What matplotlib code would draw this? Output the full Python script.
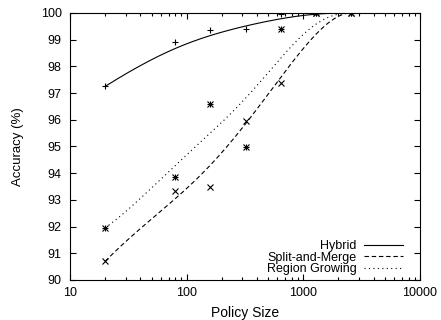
import numpy as np
from math import comb
import matplotlib
matplotlib.use("Agg")
import matplotlib.pyplot as plt
from matplotlib.ticker import LogLocator, FixedLocator, NullFormatter

policy_size = [20, 80, 160, 320, 640, 1280, 2560]
hybrid = [97.25, 98.9, 99.35, 99.4, 99.97, 100.0, 100.0]
split_merge = [90.7, 93.35, 93.5, 95.95, 97.37, 100.0, 100.0]
region_growing = [91.95, 93.85, 96.6, 94.97, 99.4, 100.0, 100.0]


def bezier(xs, ys, n=200):
    # gnuplot "smooth bezier" (done in log-x space)
    lx = np.log10(xs)
    ys = np.asarray(ys)
    k = len(xs) - 1
    t = np.linspace(0, 1, n)
    bx = np.zeros(n)
    by = np.zeros(n)
    for i in range(k + 1):
        w = comb(k, i) * t**i * (1 - t)**(k - i)
        bx += w * lx[i]
        by += w * ys[i]
    return 10**bx, by


plt.rcParams["font.family"] = ["Liberation Sans", "DejaVu Sans"]
plt.rcParams["font.size"] = 9

fig = plt.figure(figsize=(4.41, 3.2), dpi=100)
ax = fig.add_axes([70 / 441, 40 / 320, 350 / 441, 267 / 320])

lw = 0.8
series = [
    (hybrid, "Hybrid", "-", ["+"]),
    (split_merge, "Split-and-Merge", (0, (4, 2.5)), ["x"]),
    (region_growing, "Region Growing", (0, (1, 3)), ["+", "x"]),
]
for ys, label, ls, marks in series:
    bx, by = bezier(policy_size, ys)
    ax.plot(bx, by, color="black", linestyle=ls, linewidth=lw, label=label)
    for m in marks:
        ax.plot(policy_size, ys, linestyle="none", marker=m, markersize=4.6,
                markeredgewidth=0.8, color="black")

ax.set_xscale("log")
ax.set_xlim(10, 10000)
ax.set_ylim(90, 100)
ax.yaxis.set_major_locator(FixedLocator(range(90, 101)))
ax.xaxis.set_major_locator(LogLocator(base=10))
ax.xaxis.set_minor_locator(LogLocator(base=10, subs=np.arange(2, 10)))
ax.xaxis.set_minor_formatter(NullFormatter())
ax.xaxis.set_major_formatter(plt.FuncFormatter(lambda v, p: f"{int(v)}"))

ax.tick_params(which="both", direction="in", top=True, right=True, width=0.8)
ax.tick_params(which="major", length=4.5, labelsize=9)
ax.tick_params(which="minor", length=2.5)
ax.tick_params(axis="y", pad=6)
ax.tick_params(axis="x", pad=5)
for s in ax.spines.values():
    s.set_linewidth(0.8)

ax.set_xlabel("Policy Size", fontsize=10, labelpad=5)
ax.set_ylabel("Accuracy (%)", fontsize=9.5, labelpad=12)

ax.legend(loc="lower right", frameon=False, markerfirst=False, fontsize=9,
          handlelength=3.1, handletextpad=0.6, labelspacing=-0.05,
          borderaxespad=0.0, borderpad=0.4, bbox_to_anchor=(1 - 12 / 350, 0.0))

fig.savefig("out.png", dpi=100)
